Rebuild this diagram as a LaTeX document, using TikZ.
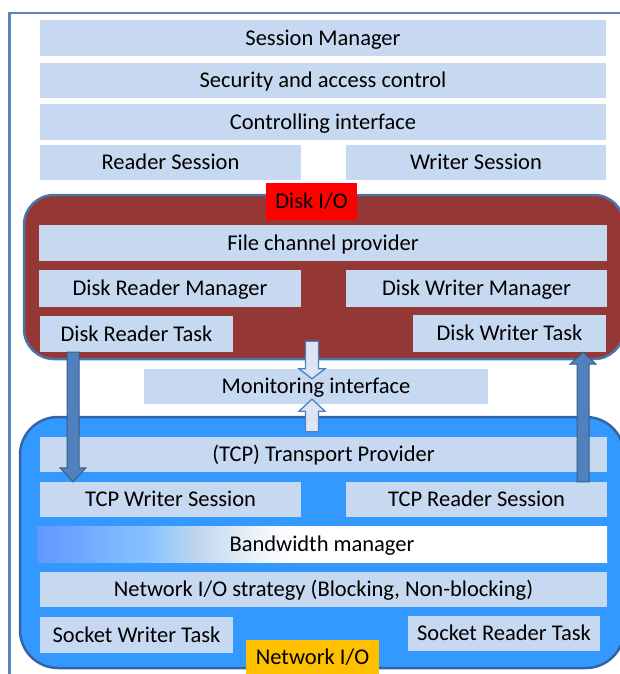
\documentclass[tikz,border=0pt]{standalone}
\usepackage{fontspec}
\setmainfont{Carlito}
\usetikzlibrary{calc}

\definecolor{boxfill}{HTML}{C6D9F1}
\definecolor{diskfill}{HTML}{953735}
\definecolor{diskedge}{HTML}{4A74A8}
\definecolor{netfill}{HTML}{3399FF}
\definecolor{netedge}{HTML}{3464A6}
\definecolor{frameblue}{HTML}{5A85BF}
\definecolor{arrowfill}{HTML}{4F81BD}
\definecolor{arrowedge}{HTML}{385D8A}
\definecolor{hollowfill}{HTML}{DCE6F2}
\definecolor{labelred}{HTML}{FF0000}
\definecolor{labelgold}{HTML}{FFC000}
\definecolor{bwA}{HTML}{6098FF}
\definecolor{bwB}{HTML}{88C4FF}
\definecolor{bwC}{HTML}{BFD6EF}
\definecolor{bwD}{HTML}{F2F6FB}

% bandwidth bar: blue on the left fading to white
\pgfdeclarehorizontalshading{bwshade}{100bp}{color(0bp)=(bwA); color(25bp)=(bwA); color(35bp)=(bwB); color(39bp)=(bwC); color(45bp)=(bwD); color(48bp)=(white); color(100bp)=(white)}

\begin{document}
\begin{tikzpicture}[x=1pt,y=-1pt,
  font=\fontsize{22.5}{26}\selectfont,
  label text/.style={inner sep=0pt, text height=16pt, text depth=2pt},
  box/.style={label text, fill=boxfill},
  tag/.style={label text},
  group/.style={line width=2.5pt},
  blockarrow/.style={fill=arrowfill, draw=arrowedge, line width=1pt, line join=miter},
  hollowarrow/.style={fill=hollowfill, draw=arrowfill, line width=1.3pt, line join=miter}]

\useasboundingbox (0,0) rectangle (620,674);
\clip (0,0) rectangle (620,674);

% outer frame
\draw[frameblue, line width=2.5pt] (9.5,690) -- (9.5,13) -- (640,13);

% upper stack
\node[box, minimum width=566pt, minimum height=36pt] (sm)   at (323,38.5)  {Session Manager};
\node[box, minimum width=566pt, minimum height=35pt] (sec)  at (323,80.5)  {Security and access control};
\node[box, minimum width=566pt, minimum height=36pt] (ctl)  at (323,122)   {Controlling interface};
\node[box, minimum width=261pt, minimum height=35pt] (rs)   at (170.5,162.5) {Reader Session};
\node[box, minimum width=260pt, minimum height=35pt] (ws)   at (476,162.5) {Writer Session};

% disk I/O group
\draw[group, fill=diskfill, draw=diskedge, rounded corners=30pt] (24,195) rectangle (624,359);
\node[tag, fill=labelred, minimum width=91pt, minimum height=37pt] (diskio) at (311.5,201.5) {Disk I/O};
\node[box, minimum width=568pt, minimum height=36pt] (fcp)  at (323,243)   {File channel provider};
\node[box, minimum width=262pt, minimum height=37pt] (drm)  at (170,288.5) {Disk Reader Manager};
\node[box, minimum width=261pt, minimum height=37pt] (dwm)  at (476.5,288.5) {Disk Writer Manager};
\node[box, minimum width=193pt, minimum height=36pt] (drt)  at (136.5,334) {Disk Reader Task};
\node[box, minimum width=193pt, minimum height=37pt] (dwt)  at (509.5,333.5) {Disk Writer Task};

% monitoring
\node[box, minimum width=344pt, minimum height=35pt] (mon)  at (316,386.5) {Monitoring interface};

% network I/O group
\draw[group, fill=netfill, draw=netedge, rounded corners=38pt] (20,417) rectangle (624,668);
\node[box, minimum width=567pt, minimum height=35pt] (tcp)  at (323.5,454.5) {(TCP) Transport Provider};
\node[box, minimum width=261pt, minimum height=35pt] (tcpw) at (170.5,499.5) {TCP Writer Session};
\node[box, minimum width=261pt, minimum height=35pt] (tcpr) at (476.5,499.5) {TCP Reader Session};
\node[label text, shading=bwshade, minimum width=570pt, minimum height=36pt] (bw) at (322,544) {Bandwidth manager};
\node[box, minimum width=567pt, minimum height=35pt] (nios) at (323.5,589.5) {Network I/O strategy (Blocking, Non-blocking)};
\node[box, minimum width=193pt, minimum height=36pt] (swt)  at (136.5,635) {Socket Writer Task};
\node[box, minimum width=192pt, minimum height=35pt] (srt)  at (504,633.5) {Socket Reader Task};
\node[tag, fill=labelgold, minimum width=133pt, minimum height=34pt] (netio) at (312.5,657) {Network I/O};

% hollow arrows between the groups and the monitoring interface
\coordinate (hx) at (312,0);
\draw[hollowarrow]
  ($(hx|-diskio.south)+(-6.5,121)$) -- ($(hx|-mon.north)+(-6.5,0)$) -- ($(hx|-mon.north)+(-13,0)$)
  -- ($(hx|-mon.north)+(0,10)$)
  -- ($(hx|-mon.north)+(13,0)$) -- ($(hx|-mon.north)+(6.5,0)$) -- ($(hx|-diskio.south)+(6.5,121)$) -- cycle;
\draw[hollowarrow]
  ($(hx|-tcp.north)+(-6.5,-5)$) -- ($(hx|-mon.south)+(-6.5,7)$) -- ($(hx|-mon.south)+(-13,7)$)
  -- ($(hx|-mon.south)+(0,-5)$)
  -- ($(hx|-mon.south)+(13,7)$) -- ($(hx|-mon.south)+(6.5,7)$) -- ($(hx|-tcp.north)+(6.5,-5)$) -- cycle;

% data flow: disk reader down to TCP writer, TCP reader up to disk writer
\coordinate (lx) at (73,0);
\coordinate (rx) at (583,0);
\draw[blockarrow]
  ($(lx|-drt.south)+(-6,0)$) -- ($(lx|-tcpw.north)+(-6,-14)$) -- ($(lx|-tcpw.north)+(-13,-14)$)
  -- (lx|-tcpw.north)
  -- ($(lx|-tcpw.north)+(13,-14)$) -- ($(lx|-tcpw.north)+(6,-14)$) -- ($(lx|-drt.south)+(6,0)$) -- cycle;
\draw[blockarrow]
  ($(rx|-tcpr.north)+(-6,0)$) -- ($(rx|-dwt.south)+(-6,12)$) -- ($(rx|-dwt.south)+(-13,12)$)
  -- (rx|-dwt.south)
  -- ($(rx|-dwt.south)+(13,12)$) -- ($(rx|-dwt.south)+(6,12)$) -- ($(rx|-tcpr.north)+(6,0)$) -- cycle;
\end{tikzpicture}
\end{document}
